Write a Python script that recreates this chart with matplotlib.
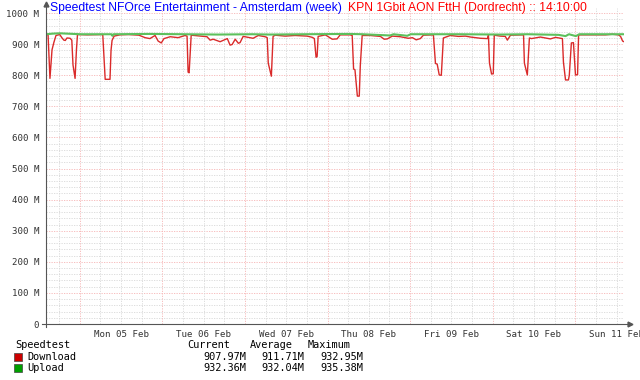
import matplotlib
matplotlib.use("Agg")
import matplotlib.pyplot as plt
import numpy as np

# ---------------- data ----------------
# hours since start of graph (Sun 04 Feb 14:10) -> Mbit/s
dl_hours = [0, 0.6, 1.15, 1.55, 1.75, 2.3, 2.9, 4.0, 4.6, 5.2, 5.6, 6.1, 7.0, 7.5, 7.85, 8.45, 8.85, 9.15,
            12, 16.5, 16.9, 17.2, 18.6, 18.9, 19.2, 19.8, 21.5, 24, 27, 28.8, 30.2, 31.7, 32.6, 33.5, 34.3,
            36.1, 38.4, 40.4, 41.0, 41.3, 41.6, 42.2, 44.8, 46.8, 47.7, 48.6, 50.6, 52.7, 53.5, 54.1, 55.0,
            55.9, 56.4, 57.3, 58.8, 60.2, 61.7, 63.7, 64.3, 64.6, 65.5, 66.0, 66.6, 69.5, 72.4, 75.9, 77.4,
            78.0, 78.5, 78.8, 79.1, 81.2, 83.2, 84.6, 85.5, 88.4, 89.0, 89.4, 89.8, 90.5, 91.05, 91.35, 91.9,
            94.25, 97.2, 98.3, 99.2, 100.0, 100.65, 103, 105.3, 106.5, 107.6, 108.8, 109.7, 112.6, 113.2,
            113.7, 114.3, 114.9, 115.5, 117.5, 119.9, 121.9, 123.4, 126.3, 128.3, 128.6, 128.9, 129.5, 130.0,
            130.3, 132, 133.5, 134.1, 135, 138.8, 139.05, 139.9, 140.5, 141.1, 143.7, 146.6, 148.1, 150.1,
            150.4, 151, 151.85, 152.1, 152.7, 153.3, 153.9, 154.5, 154.8, 155.3, 162.6, 164.65, 166.4, 167.0,
            167.6, 168]
dl_values = [932, 930, 790, 850, 882, 906, 928, 931, 921, 913, 912, 920, 919, 913, 833, 790, 882, 931,
             930, 931, 850, 787, 787, 880, 912, 926, 930, 931, 929, 921, 918, 928, 910, 904, 918,
             924, 921, 928, 926, 810, 808, 929, 926, 924, 913, 916, 908, 918, 897, 899, 916,
             903, 905, 925, 922, 919, 928, 924, 921, 839, 797, 925, 929, 926, 928, 926, 922,
             918, 858, 860, 925, 930, 916, 917, 930, 930, 928, 820, 818, 733, 733, 830, 928,
             928, 925, 916, 917, 922, 926, 924, 919, 921, 914, 918, 929, 930, 838,
             836, 801, 800, 920, 928, 925, 926, 923, 919, 918, 929, 839, 804, 805,
             929, 926, 925, 913, 929, 930, 839, 801, 920, 918, 923, 917, 922, 918,
             842, 785, 785, 800, 904, 905, 801, 802, 929, 930, 930, 932, 930, 925,
             910, 908]

ul_hours = [0, 2, 4, 6, 8, 10, 19, 19.3, 19.6, 30, 40, 50, 60, 65, 75, 88, 92, 100, 101, 105, 106,
            120, 132, 140, 149, 151, 152, 154, 155, 160, 168]
ul_values = [932, 934, 935, 934, 933, 932, 932, 927, 932, 933, 932, 931, 932, 931, 932, 933, 932, 928,
             932, 927, 932, 932, 931, 932, 930, 926, 932, 926, 932, 932, 932]

day_labels = ["Mon 05 Feb", "Tue 06 Feb", "Wed 07 Feb", "Thu 08 Feb", "Fri 09 Feb", "Sat 10 Feb", "Sun 11 Feb"]
first_midnight = 9 + 50 / 60.0   # hours from start to Mon 05 Feb 00:00
y_ticks = [0, 100, 200, 300, 400, 500, 600, 700, 800, 900, 1000]
y_labels = ["0", "100 M", "200 M", "300 M", "400 M", "500 M", "600 M", "700 M", "800 M", "900 M", "1000 M"]

title_left = "Speedtest NFOrce Entertainment - Amsterdam (week)"
title_right = "KPN 1Gbit AON FttH (Dordrecht) :: 14:10:00"
legend_head = "Speedtest"
col_heads = ["Current", "Average", "Maximum"]
series_names = ["Download", "Upload"]
stats = [["907.97M", "911.71M", "932.95M"],
         ["932.36M", "932.04M", "935.38M"]]

# ---------------- figure ----------------
W, H = 640, 380
fig = plt.figure(figsize=(W / 100, H / 100), dpi=100)
fig.patch.set_facecolor("white")

def fx(x):
    return x / W

def fy(y):
    return 1 - y / H

ax_left, ax_right, ax_top, ax_bot = 46, 624, 7.5, 324
ax = fig.add_axes([fx(ax_left), fy(ax_bot), (ax_right - ax_left) / W, (ax_bot - ax_top) / H])
ax.set_xlim(0, 168)
ax.set_ylim(0, 1018)
for s in ax.spines.values():
    s.set_visible(False)

mono = "DejaVu Sans Mono"
tick_col = "#333333"

# grid
for yv in np.arange(20, 1020, 20):
    if yv % 100 == 0:
        ax.axhline(yv, color="#F6B4B4", lw=0.6, ls=(0, (1.5, 1.5)), zorder=1)
    else:
        ax.axhline(yv, color="#D8D8D8", lw=0.6, ls=(0, (1.5, 1.5)), zorder=1)
for k in range(-1, 28):
    hv = first_midnight - 6 + 6 * k
    if hv <= 0 or hv >= 168:
        continue
    if k % 4 == 1:
        ax.axvline(hv, color="#F6B4B4", lw=0.6, ls=(0, (1.5, 1.5)), zorder=1)
    else:
        ax.axvline(hv, color="#D8D8D8", lw=0.6, ls=(0, (1.5, 1.5)), zorder=1)

# data
ax.plot(dl_hours, dl_values, color="#DA2A2A", lw=1.0, zorder=3)
ax.plot(ul_hours, ul_values, color="#5CC05C", lw=1.5, zorder=4)

# ticks
ax.set_yticks(y_ticks)
ax.set_yticklabels(y_labels, fontfamily=mono, fontsize=6.6, color=tick_col)
noon = [first_midnight + 12 + 24 * i for i in range(len(day_labels))]
ax.set_xticks(noon)
ax.set_xticklabels(day_labels, fontfamily=mono, fontsize=6.6, color=tick_col)
ax.tick_params(axis="both", length=0)
ax.tick_params(axis="y", pad=5)
ax.tick_params(axis="x", pad=4)
for lbl in ax.get_xticklabels():
    lbl.set_clip_on(False)

# axes lines with arrows (figure pixel coordinates)
axis_col = "#555555"
fig.add_artist(plt.Line2D([fx(ax_left), fx(ax_left)], [fy(ax_bot + 3), fy(5)], color=axis_col, lw=0.8))
fig.add_artist(plt.Line2D([fx(42), fx(628)], [fy(ax_bot), fy(ax_bot)], color=axis_col, lw=0.8))
fig.add_artist(plt.Line2D([fx(ax_left)], [fy(4)], marker="^", markersize=3.5, color=axis_col, lw=0))
fig.add_artist(plt.Line2D([fx(630)], [fy(ax_bot)], marker=">", markersize=3.5, color=axis_col, lw=0))

# titles
fig.text(fx(50), fy(8.5), title_left, color="#0000FF", fontsize=8.7, fontfamily="Liberation Sans", va="center", ha="left")
fig.text(fx(348), fy(8.5), title_right, color="#FF0000", fontsize=8.7, fontfamily="Liberation Sans", va="center", ha="left")

# legend
lfs = 7.4
fig.text(fx(15), fy(345), legend_head, fontfamily=mono, fontsize=lfs, color="#000000", va="center")
head_right = [230, 293, 350]
for hname, xr in zip(col_heads, head_right):
    fig.text(fx(xr), fy(345), hname, fontfamily=mono, fontsize=lfs, color="#000000", va="center", ha="right")
row_y = [356.5, 368]
sq_cols = ["#CC0000", "#00A000"]
val_right = [246, 304, 363]
for name, yy, c, vals in zip(series_names, row_y, sq_cols, stats):
    fig.add_artist(plt.Rectangle((fx(14), fy(yy + 4)), 8 / W, 8 / H, facecolor=c, edgecolor="#444444", lw=0.5))
    fig.text(fx(27), fy(yy), name, fontfamily=mono, fontsize=lfs, color="#000000", va="center")
    for v, xr in zip(vals, val_right):
        fig.text(fx(xr), fy(yy), v, fontfamily=mono, fontsize=lfs, color="#000000", va="center", ha="right")

fig.savefig("out.png", dpi=100)
